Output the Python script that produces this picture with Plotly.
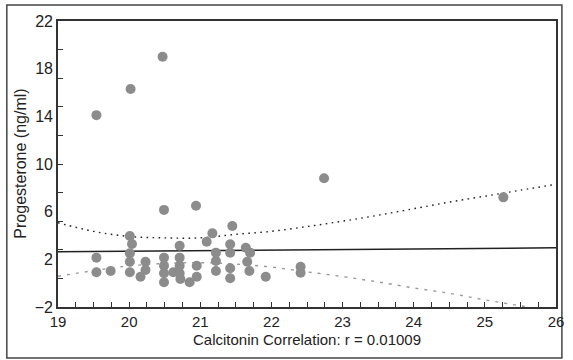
import plotly.graph_objects as go

# Scatter data (Calcitonin vs Progesterone)
calcitonin = [19.54, 20.02, 20.47, 22.74, 25.26, 20.49, 20.94,
              19.54, 19.54, 19.74, 20.01, 20.04, 20.01, 20.01, 20.01,
              20.23, 20.23, 20.16, 20.49, 20.49, 20.49, 20.49, 20.62,
              20.71, 20.71, 20.71, 20.71, 20.72, 20.85, 20.95, 20.95,
              21.09, 21.17, 21.45, 21.22, 21.22, 21.22, 21.42, 21.42,
              21.42, 21.42, 21.64, 21.70, 21.66, 21.69, 21.92, 22.41, 22.41]
progesterone = [14.1, 16.3, 19.0, 8.8, 7.2, 6.15, 6.5,
                2.14, 0.91, 1.02, 3.96, 3.28, 2.5, 1.8, 0.91,
                1.8, 1.1, 0.54, 2.14, 1.46, 0.83, 0.07, 0.91,
                3.14, 2.14, 1.46, 0.83, 0.35, 0.07, 1.46, 0.54,
                3.48, 4.18, 4.8, 2.56, 1.86, 1.02, 3.26, 2.56,
                1.25, 0.41, 2.97, 2.56, 1.8, 1.02, 0.54, 1.38, 0.88]

# Regression line and confidence band
fit_x = [19, 26]
fit_y = [2.64, 2.97]
band_x = [19, 19.5, 20, 20.5, 21, 21.5, 22, 22.5, 23, 23.5, 24, 24.5, 25, 25.5, 26]
band_upper = [5.07, 4.35, 3.92, 3.8, 3.8, 4.1, 4.35, 4.75, 5.2, 5.7, 6.25, 6.8, 7.3, 7.8, 8.3]
band_lower = [0.58, 1.05, 1.45, 1.65, 1.72, 1.6, 1.35, 0.95, 0.55, 0.1, -0.4, -0.85, -1.4, -1.9, -2.4]

x_ticks = [19 + 0.25 * i for i in range(29)]
x_labels = [str(int(v)) if abs(v - round(v)) < 1e-9 else "" for v in x_ticks]
y_ticks = [-2 + 2.4 * i for i in range(11)]
y_label_vals = [-2, 2, 6, 10, 14, 18, 22]

FONT = "Arial, Liberation Sans, sans-serif"
AX = "#333333"

fig = go.Figure()
fig.add_trace(go.Scatter(x=band_x, y=band_lower, mode="lines",
                         line=dict(color="#9a9a9a", width=1.4, dash="3px,6px"),
                         line_shape="spline", hoverinfo="skip"))
fig.add_trace(go.Scatter(x=band_x, y=band_upper, mode="lines",
                         line=dict(color="#222222", width=1.4, dash="1.6px,4.4px"),
                         line_shape="spline", hoverinfo="skip"))
fig.add_trace(go.Scatter(x=fit_x, y=fit_y, mode="lines",
                         line=dict(color="#222222", width=1.5)))
fig.add_trace(go.Scatter(x=calcitonin, y=progesterone, mode="markers",
                         marker=dict(color="#8c8c8c", size=10, line=dict(width=0))))
# invisible trace so the label axis is drawn
fig.add_trace(go.Scatter(x=[19], y=[-2], yaxis="y2", mode="markers",
                         marker=dict(opacity=0), hoverinfo="skip"))

fig.update_layout(
    width=573, height=360,
    margin=dict(l=58, r=9, t=21, b=53),
    paper_bgcolor="white", plot_bgcolor="white",
    showlegend=False,
    font=dict(family=FONT, color="#222222"),
    xaxis=dict(range=[19, 26], tickvals=x_ticks, ticktext=x_labels,
               ticks="inside", ticklen=5, tickwidth=1.2, tickcolor=AX,
               showline=True, linecolor=AX, linewidth=2, mirror=True,
               showgrid=False, zeroline=False,
               tickfont=dict(size=15, family=FONT, color="#222222")),
    yaxis=dict(range=[-2, 22], tickvals=y_ticks, showticklabels=False,
               ticks="inside", ticklen=5, tickwidth=1.2, tickcolor=AX,
               showline=True, linecolor=AX, linewidth=2, mirror=True,
               showgrid=False, zeroline=False),
    yaxis2=dict(range=[-2, 22], overlaying="y", side="left",
                tickvals=y_label_vals, ticks="", showline=False,
                showgrid=False, zeroline=False, ticklabelstandoff=4,
                tickfont=dict(size=16, family=FONT, color="#222222")),
)

fig.add_annotation(text="Calcitonin Correlation: r = 0.01009", xref="paper", yref="paper",
                   x=0.5, y=-0.115, xanchor="center", yanchor="middle", showarrow=False,
                   font=dict(size=15, family=FONT, color="#222222"))
fig.add_annotation(text="Progesterone (ng/ml)", xref="paper", yref="paper",
                   x=-0.077, y=0.5, xanchor="center", yanchor="middle", showarrow=False,
                   textangle=-90, font=dict(size=16, family=FONT, color="#222222"))

# outer frame around the whole figure
fig.add_shape(type="rect", xref="paper", yref="paper",
              x0=(6 - 58) / 506, x1=(570 - 58) / 506,
              y0=(307 - 358) / 286, y1=(307 - 5) / 286,
              line=dict(color="#444444", width=1.5), layer="below")

fig.write_html("out.html")
